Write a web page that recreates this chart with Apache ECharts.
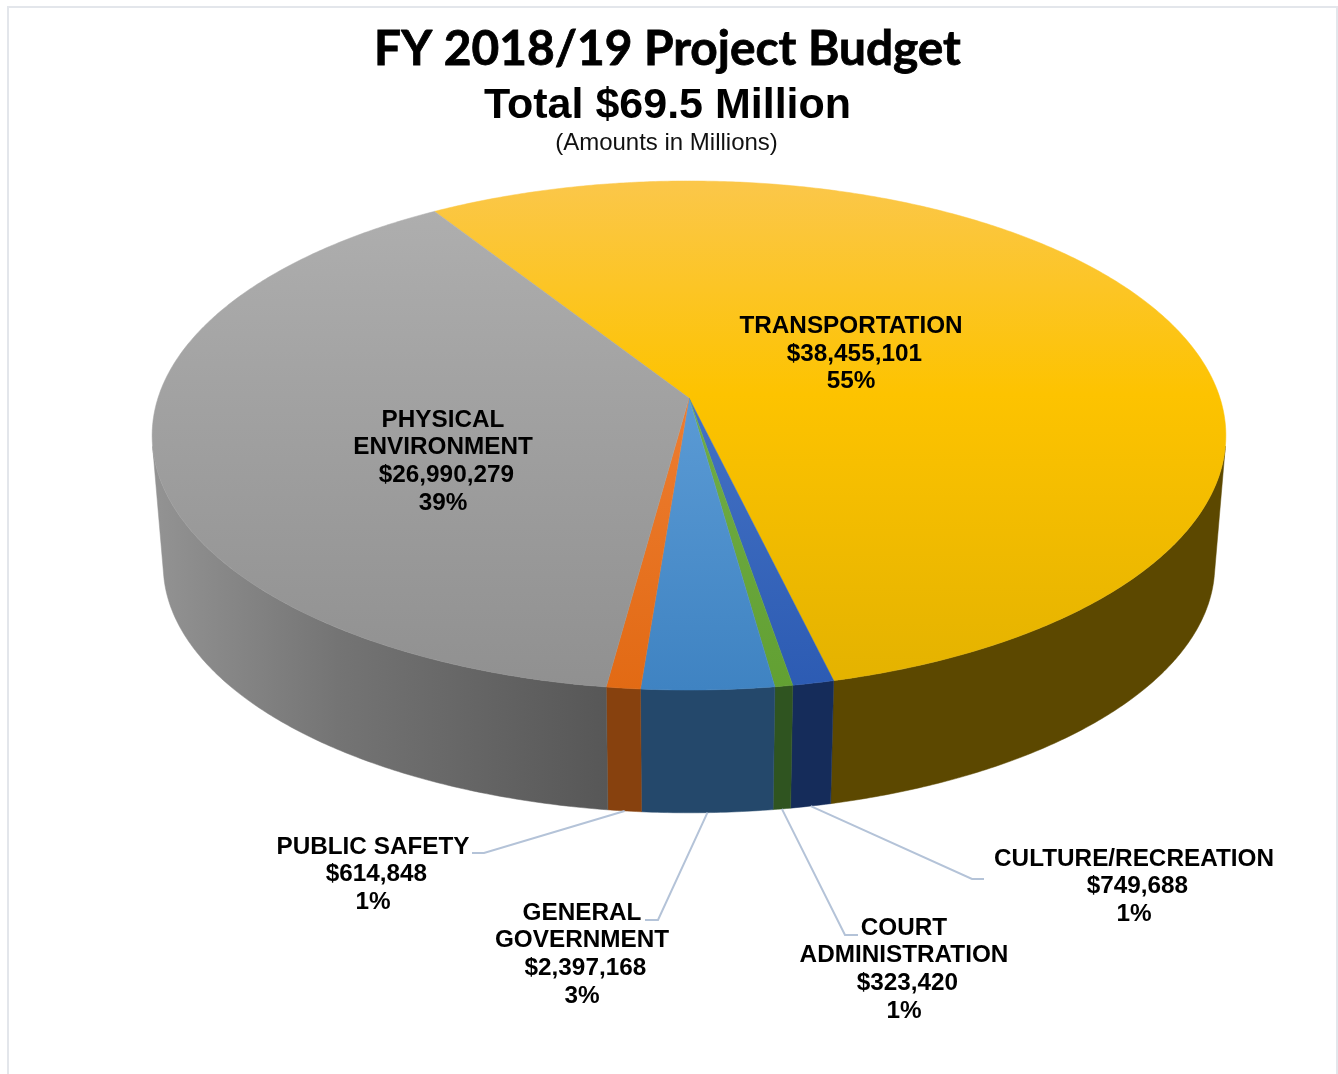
<!DOCTYPE html>
<html>
<head>
<meta charset="utf-8">
<style>html,body{margin:0;padding:0;background:#fff}#c{width:1338px;height:1074px}</style>
<script src="https://cdn.jsdelivr.net/npm/echarts@6/dist/echarts.min.js"></script>
</head>
<body>
<div id="c"></div>
<script>
// Data, clockwise from the top-left boundary of TRANSPORTATION
const categories = ['TRANSPORTATION', 'CULTURE/RECREATION', 'COURT\nADMINISTRATION', 'GENERAL\nGOVERNMENT', 'PUBLIC SAFETY', 'PHYSICAL\nENVIRONMENT'];
const values = [38455101, 749688, 323420, 2397168, 614848, 26990279];
const amountLabels = ['$38,455,101', '$749,688', '$323,420', '$2,397,168', '$614,848', '$26,990,279'];
const percentLabels = ['55%', '1%', '1%', '3%', '1%', '39%'];

// Styles and layout (not data)
const topStops = [
  [[0,'#FBC74A'],[0.42,'#FDC300'],[1,'#E3B200']],
  [[0,'#6F93D8'],[0.42,'#4472C4'],[1,'#2C5BB3']],
  [[0,'#8CC06A'],[0.42,'#70AD47'],[1,'#62A032']],
  [[0,'#7BB1E2'],[0.42,'#5B9BD5'],[1,'#3F83C2']],
  [[0,'#F29A5E'],[0.42,'#ED7D31'],[1,'#E26A14']],
  [[0,'#B0B0B0'],[0.42,'#A2A2A2'],[1,'#909090']]
];
const sideStops = [
  [[0,'#665000'],[1,'#5C4800']],
  [[0,'#152C5A'],[1,'#152C5A']],
  [[0,'#2F5420'],[1,'#2F5420']],
  [[0,'#254B70'],[1,'#24486B']],
  [[0,'#87410E'],[1,'#87410E']],
  [[0,'#929292'],[0.4,'#747474'],[1,'#575757']]
];
const labelLayout = [
  {x: 851, y: 354, elbow: null},
  {x: 1134, y: 886.5, elbow: [[972, 879], [984, 879]]},
  {x: 904, y: 969.5, elbow: [[845, 935], [858, 935]]},
  {x: 582, y: 954.5, elbow: [[658, 920], [645, 920]]},
  {x: 373, y: 874.5, elbow: [[484, 853], [472, 853]]},
  {x: 443, y: 461.5, elbow: null}
];
const startDeg = -32.6;
const persp = 0.1473;
const topFace = {cx: 689, cy: 398, A: 531, B: 249};
const bottomFace = {cx: 689, cy: 529, A: 520, B: 242};

const total = values.reduce((a, b) => a + b, 0);
const toRad = d => d * Math.PI / 180;
const sweep = [];
values.reduce((acc, v, i) => {
  const a1 = acc + v / total * 360;
  sweep[i] = [acc, a1];
  return a1;
}, startDeg);

function project(face, deg) {
  const u = Math.sin(toRad(deg)), v = -Math.cos(toRad(deg));
  const w = 1 - persp * v;
  return [face.cx + face.A * u / w, face.cy + face.B * v / w];
}
function arc(face, a0, a1) {
  const n = Math.max(2, Math.ceil(Math.abs(a1 - a0) * 2));
  const pts = [];
  for (let k = 0; k <= n; k++) pts.push(project(face, a0 + (a1 - a0) * k / n));
  return pts;
}
// The wall is visible where the rim's tangent and the top-to-bottom edge keep the same turn
function facesViewer(deg) {
  const p = project(topFace, deg), q = project(topFace, deg + 0.1), b = project(bottomFace, deg);
  return (q[0] - p[0]) * (b[1] - p[1]) - (q[1] - p[1]) * (b[0] - p[0]) < 0;
}
let frontStart = 180, frontEnd = 180;
while (frontStart > 0 && facesViewer(frontStart - 0.1)) frontStart -= 0.1;
while (frontEnd < 360 && facesViewer(frontEnd + 0.1)) frontEnd += 0.1;

const rows = values.map((v, i) => [i, v]);
const G = echarts.graphic.LinearGradient;

function renderSide(params, api) {
  const i = api.value(0);
  const a0 = Math.max(sweep[i][0], frontStart), a1 = Math.min(sweep[i][1], frontEnd);
  if (a0 >= a1) return null;
  const pts = arc(topFace, a0, a1).concat(arc(bottomFace, a1, a0));
  const fill = new G(160, 0, 606, 0, sideStops[i].map(s => ({offset: s[0], color: s[1]})), true);
  return {type: 'polygon', shape: {points: pts}, style: {fill: fill, stroke: fill, lineWidth: 0.5}};
}
function renderTop(params, api) {
  const i = api.value(0);
  const [a0, a1] = sweep[i];
  const pts = [[topFace.cx, topFace.cy]].concat(arc(topFace, a0, a1));
  const fill = new G(0, 181, 0, 690, topStops[i].map(s => ({offset: s[0], color: s[1]})), true);
  return {type: 'polygon', shape: {points: pts}, style: {fill: fill, stroke: fill, lineWidth: 0.5}};
}
function renderLabel(params, api) {
  const i = api.value(0);
  const lay = labelLayout[i];
  const children = [];
  if (lay.elbow) {
    const mid = (sweep[i][0] + sweep[i][1]) / 2;
    children.push({type: 'polyline',
      shape: {points: [project(bottomFace, mid)].concat(lay.elbow)},
      style: {fill: 'none', stroke: '#B4C3D8', lineWidth: 2}});
  }
  children.push({type: 'text', x: lay.x, y: lay.y, style: {
    text: categories[i] + '\n ' + amountLabels[i] + '\n' + percentLabels[i],
    fontFamily: '"Liberation Sans", Arial, sans-serif', fontWeight: 'bold', fontSize: 24.3,
    lineHeight: 27.6, fill: '#000', align: 'center', verticalAlign: 'middle'}});
  return {type: 'group', children: children};
}

const chart = echarts.init(document.getElementById('c'), null, {renderer: 'canvas'});
chart.setOption({
  animation: false,
  backgroundColor: '#fff',
  title: [
    {text: 'FY 2018/19 Project Budget', left: 662.5, top: 21, textAlign: 'center',
     textStyle: {fontFamily: 'Lato', fontWeight: 'bold', fontSize: 47.8, color: '#000', textBorderColor: '#000', textBorderWidth: 0.8}},
    {text: 'Total $69.5 Million', left: 662.5, top: 80, textAlign: 'center',
     textStyle: {fontFamily: '"Liberation Sans"', fontWeight: 'bold', fontSize: 43, color: '#000'}},
    {text: '(Amounts in Millions)', left: 661.5, top: 126, textAlign: 'center',
     textStyle: {fontFamily: '"Liberation Sans"', fontWeight: 'normal', fontSize: 24, color: '#111'}}
  ],
  graphic: [{type: 'rect', shape: {x: 8, y: 7, width: 1329, height: 1100},
    style: {fill: 'none', stroke: '#E3E6EB', lineWidth: 2}, silent: true, z: -1}],
  series: [
    {type: 'custom', coordinateSystem: 'none', data: rows, renderItem: renderSide, silent: true, z: 1},
    {type: 'custom', coordinateSystem: 'none', data: rows, renderItem: renderTop, silent: true, z: 2},
    {type: 'custom', coordinateSystem: 'none', data: rows, renderItem: renderLabel, silent: true, z: 3}
  ]
});
</script>
</body>
</html>
